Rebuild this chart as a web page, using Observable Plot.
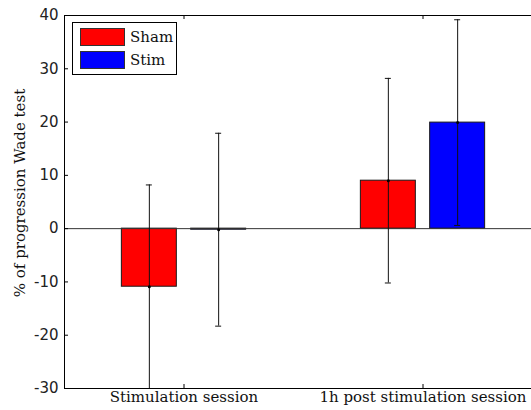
<!DOCTYPE html>
<html>
<head>
<meta charset="utf-8">
<script src="https://cdn.jsdelivr.net/npm/d3@7"></script>
<script src="https://cdn.jsdelivr.net/npm/@observablehq/plot@0.6"></script>
<style>
  html, body { margin: 0; padding: 0; background: #fff; }
  #wrap { position: relative; width: 531px; height: 410px; }
  #legend { position: absolute; left: 72px; top: 22px; }
</style>
</head>
<body>
<div id="wrap"></div>
<script>
// ---- data ----
const groups = ["Stimulation session", "1h post stimulation session"];
const series = ["Sham", "Stim"];
const seriesColors = ["#ff0000", "#0000ff"];
const shamMeans = [-10.9, 9.0];
const stimMeans = [-0.2, 19.9];
const shamErrors = [19.1, 19.2];
const stimErrors = [18.1, 19.3];
const yTicks = [-30, -20, -10, 0, 10, 20, 30, 40];
const yLabel = "% of progression Wade test";

// ---- layout ----
const W = 531, H = 410;
const mL = 64, mR = 0, mT = 15, mB = 22;
const pxPerUnit = 239;
const xMin = 0.5, xMax = xMin + (W - mL - mR) / pxPerUnit;
const offset = 0.145, barW = 0.23, capW = 3 / pxPerUnit;

const rows = [];
groups.forEach((g, i) => {
  [[shamMeans, shamErrors], [stimMeans, stimErrors]].forEach(([m, e], s) => {
    rows.push({group: g, series: series[s], xc: i + 1 + (s === 0 ? -offset : offset), v: m[i], e: e[i]});
  });
});

const serif = "DejaVu Serif, Liberation Serif, Noto Serif, serif";
const sans = "DejaVu Sans, sans-serif";
const plotW = W - mL - mR, plotH = H - mT - mB;

const chart = Plot.plot({
  width: W, height: H,
  marginLeft: mL, marginRight: mR, marginTop: mT, marginBottom: mB,
  style: {background: "#fff", overflow: "visible"},
  x: {type: "linear", domain: [xMin, xMax]},
  y: {domain: [-30, 40]},
  color: {domain: series, range: seriesColors},
  marks: [
    Plot.rectY(rows, {x1: d => d.xc - barW / 2, x2: d => d.xc + barW / 2, y1: 0, y2: "v",
      fill: "series", stroke: "#1a1a1a", strokeWidth: 1}),
    Plot.ruleY([0], {stroke: "#333", strokeWidth: 1}),
    Plot.ruleX(rows, {x: "xc", y1: d => d.v - d.e, y2: d => d.v + d.e, stroke: "#111", strokeWidth: 1}),
    Plot.ruleY(rows, {y: d => d.v + d.e, x1: d => d.xc - capW, x2: d => d.xc + capW, stroke: "#111", strokeWidth: 1}),
    Plot.ruleY(rows, {y: d => d.v - d.e, x1: d => d.xc - capW, x2: d => d.xc + capW, stroke: "#111", strokeWidth: 1}),
    Plot.dot(rows, {x: "xc", y: "v", r: 1.5, fill: "#000", stroke: null}),
    Plot.ruleX([xMin], {stroke: "#000", strokeWidth: 1}),
    Plot.ruleY([40], {stroke: "#000", strokeWidth: 1}),
    Plot.ruleY([-30], {stroke: "#000", strokeWidth: 1}),
    Plot.ruleY(yTicks, {y: d => d, stroke: "#000", insetRight: plotW - 4}),
    Plot.ruleX([1, 2], {x: d => d, stroke: "#000", insetBottom: plotH - 4}),
    Plot.ruleX([1, 2], {x: d => d, stroke: "#000", insetTop: plotH - 4}),
    Plot.axisY({ticks: yTicks, tickSize: 0, tickPadding: 6, label: null, tickFormat: d => String(d),
      fontFamily: sans, fontSize: 15, color: "#222"}),
    Plot.axisX({ticks: [1, 2], tickSize: 0, tickPadding: 3, label: null,
      tickFormat: d => groups[d - 1], fontFamily: serif, fontSize: 15, color: "#111"}),
    Plot.text([yLabel], {text: d => d, frameAnchor: "left", textAnchor: "middle", rotate: -90, dx: -44, dy: -9,
      fontFamily: serif, fontSize: 15, fill: "#111"})
  ]
});
const wrap = document.getElementById("wrap");
wrap.appendChild(chart);

// ---- legend ----
const ns = "http://www.w3.org/2000/svg";
const lg = document.createElementNS(ns, "svg");
lg.setAttribute("id", "legend");
lg.setAttribute("width", 106);
lg.setAttribute("height", 54);
const box = document.createElementNS(ns, "rect");
Object.entries({x: 0.5, y: 0.5, width: 104, height: 52, fill: "#fff", stroke: "#000", "stroke-width": 1})
  .forEach(([k, v]) => box.setAttribute(k, v));
lg.appendChild(box);
series.forEach((s, i) => {
  const r = document.createElementNS(ns, "rect");
  Object.entries({x: 8.5, y: 6.5 + i * 23, width: 44, height: 17, fill: seriesColors[i], stroke: "#333", "stroke-width": 1})
    .forEach(([k, v]) => r.setAttribute(k, v));
  lg.appendChild(r);
  const t = document.createElementNS(ns, "text");
  Object.entries({x: 58, y: 20 + i * 23, "font-family": serif, "font-size": 15, fill: "#111"})
    .forEach(([k, v]) => t.setAttribute(k, v));
  t.textContent = s;
  lg.appendChild(t);
});
wrap.appendChild(lg);
</script>
</body>
</html>
